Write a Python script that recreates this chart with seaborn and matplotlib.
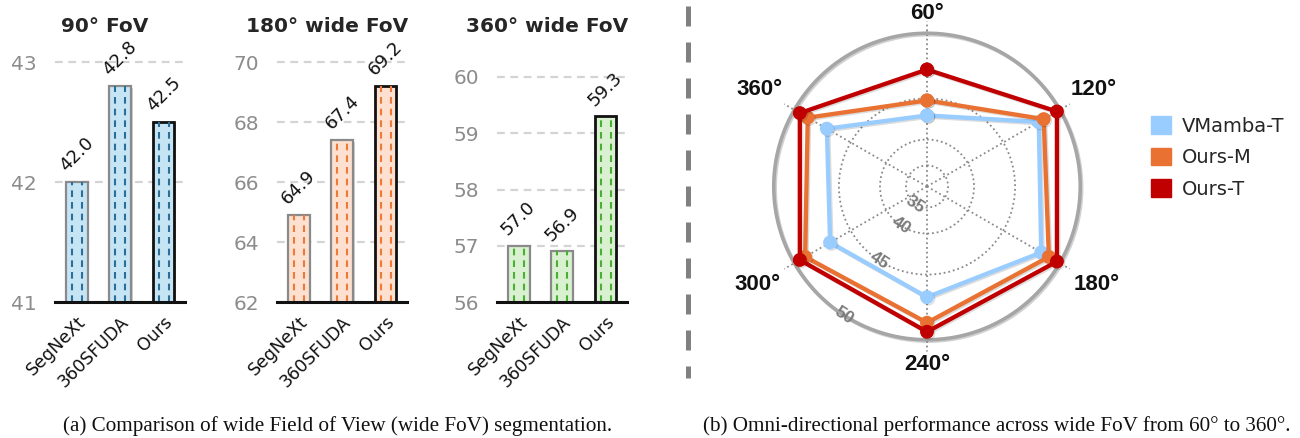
import numpy as np
import pandas as pd
import matplotlib
matplotlib.use("Agg")
import matplotlib.pyplot as plt
import seaborn as sns
from matplotlib.patches import Patch
from matplotlib.lines import Line2D
from matplotlib.transforms import ScaledTranslation
import matplotlib.patheffects as pe

# ---------------- data ----------------
methods = ["SegNeXt", "360SFUDA", "Ours"]
fov90 = [42.0, 42.8, 42.5]
fov180 = [64.9, 67.4, 69.2]
fov360 = [57.0, 56.9, 59.3]
panel_titles = ["90° FoV", "180° wide FoV", "360° wide FoV"]
panel_ticks = [[41, 42, 43], [62, 64, 66, 68, 70], [56, 57, 58, 59, 60]]

radar_labels = ["60°", "120°", "180°", "240°", "300°", "360°"]
vmamba_t = [43.2, 48.4, 48.6, 47.0, 47.1, 47.4]
ours_m = [44.8, 48.8, 49.2, 48.9, 49.2, 49.0]
ours_t = [47.5, 49.8, 49.8, 49.5, 49.6, 49.6]
series_names = ["VMamba-T", "Ours-M", "Ours-T"]
radar_ticks = [35, 40, 45, 50]

caption_a = "(a) Comparison of wide Field of View (wide FoV) segmentation."
caption_b = "(b) Omni-directional performance across wide FoV from 60° to 360°."

# ---------------- style ----------------
sns.set_theme(style="white")
plt.rcParams["font.family"] = ["DejaVu Sans"]

W, H = 1300, 438
fig = plt.figure(figsize=(W / 100, H / 100), dpi=100)

fills = ["#c6e5f4", "#fde0d0", "#d9f1d0"]
hatch_cols = ["#2b6f98", "#ee7a3a", "#4caf35"]
lefts = [55, 277, 497]
ylims = [(41, 43.1), (62, 70.4), (56, 60.48)]
panel_values = [fov90, fov180, fov360]

for i in range(3):
    ax = fig.add_axes([lefts[i] / W, 136 / H, 130 / W, 252 / H])
    df = pd.DataFrame({"method": methods, "value": panel_values[i]})
    sns.barplot(data=df, x="method", y="value", ax=ax, width=0.5,
                color=fills[i], saturation=1, zorder=3)
    ax.set_ylim(*ylims[i])
    ax.set_xlim(-0.5, 2.5)
    for bar, m, v in zip(ax.patches, methods, panel_values[i]):
        if m == "Ours":
            bar.set_edgecolor("#111111")
            bar.set_linewidth(2.0)
        else:
            bar.set_edgecolor("#8a8a8a")
            bar.set_linewidth(1.6)
        bar.set_path_effects([pe.withSimplePatchShadow(offset=(1.2, -1.2),
                                                       shadow_rgbFace="#000000",
                                                       alpha=0.18)])
        x0, w = bar.get_x(), bar.get_width()
        ax.vlines([x0 + 0.28 * w, x0 + 0.74 * w], ylims[i][0], v,
                  colors=hatch_cols[i], linestyles=(0, (3.2, 2.4)), lw=1.5,
                  zorder=4)
        ax.annotate(f"{v:.1f}", xy=(x0 + w / 2, v), xytext=(0, 5),
                    textcoords="offset points", ha="center", va="bottom",
                    rotation=45, fontsize=13, color="#111111")
    ax.set_yticks(panel_ticks[i])
    ax.set_yticklabels([str(t) for t in panel_ticks[i]])
    ax.yaxis.grid(True, color="#d4d4d4", linestyle=(0, (3.5, 2.5)), lw=1.6)
    ax.xaxis.grid(False)
    ax.set_axisbelow(True)
    for s in ["left", "right", "top"]:
        ax.spines[s].set_visible(False)
    ax.spines["bottom"].set_color("#111111")
    ax.spines["bottom"].set_linewidth(2.2)
    ax.spines["bottom"].set_zorder(5)
    ax.tick_params(axis="y", length=0, pad=13, labelsize=14.5, labelcolor="#8c8c8c")
    ax.tick_params(axis="x", length=0, pad=8, labelsize=12.5, labelcolor="#111111")
    ax.set_xlabel("")
    ax.set_ylabel("")
    for lab in ax.get_xticklabels():
        lab.set_rotation(45)
        lab.set_ha("right")
        lab.set_va("top")
        lab.set_rotation_mode("anchor")
    ax.set_title(panel_titles[i], x=0.385, fontweight="bold", fontsize=14.5, pad=13)

# separator
fig.add_artist(Line2D([688 / W, 688 / W], [1 - 6 / H, 1 - 378 / H],
                      transform=fig.transFigure, color="#808080", lw=3.6,
                      linestyle=(0, (4, 3.2))))

# ---------------- radar ----------------
R = 165
cx, cy = 927, H - 186.5
pax = fig.add_axes([(cx - R) / W, (cy - R) / H, 2 * R / W, 2 * R / H], projection="polar")
b = 0.0921
pax.set_rscale("function", functions=(lambda v: np.exp(b * np.asarray(v)),
                                      lambda y: np.log(np.maximum(y, 1e-300)) / b))
pax.set_theta_zero_location("N")
pax.set_theta_direction(-1)
angles = np.deg2rad(np.arange(len(radar_labels)) * 60.0)
pax.set_xticks(angles)
pax.set_xticklabels([])
pax.set_yticks(radar_ticks[:-1])
pax.set_yticklabels([])
pax.set_rlim(28, 50.7)
pax.xaxis.grid(True, color="#8a8a8a", linestyle=(0, (1, 1.6)), lw=1.3)
pax.yaxis.grid(True, color="#8a8a8a", linestyle=(0, (1, 1.6)), lw=1.3)
pax.spines["polar"].set_visible(False)
pax.set_facecolor("none")
pax.tick_params(length=0)

circ = np.linspace(0, 2 * np.pi, 361)
pax.plot(circ, np.full_like(circ, radar_ticks[-1]), color="#a6a6a6", lw=2.6, zorder=2,
         path_effects=[pe.SimpleLineShadow(offset=(1, -1), alpha=0.2), pe.Normal()])

for v in radar_ticks:
    pax.text(np.deg2rad(213), v, str(v), rotation=-33, ha="center", va="center",
             fontsize=12.5, fontweight="bold", color="#7a7a7a", zorder=3,
             family="Liberation Sans")

radar_colors = ["#99ccff", "#e97132", "#c00000"]
radar_series = [vmamba_t, ours_m, ours_t]
closed_ang = np.append(angles, angles[0])
for name, vals, col in zip(series_names, radar_series, radar_colors):
    pax.plot(closed_ang, vals + vals[:1], color=col, lw=3.1, marker="o", ms=9,
             zorder=5, solid_joinstyle="miter", label=name,
             path_effects=[pe.SimpleLineShadow(offset=(1, -1), alpha=0.15), pe.Normal()])

for ang, lab in zip(angles, radar_labels):
    d = 22 + 22 * abs(np.sin(ang)) - 2.5 * np.cos(ang)
    pax.annotate(lab, xy=(ang, radar_ticks[-1]), xytext=(d * np.sin(ang), d * np.cos(ang)),
                 textcoords="offset pixels", ha="center", va="center",
                 fontsize=16, fontweight="bold", color="#111111", annotation_clip=False,
                 family="Liberation Sans")

handles = [Patch(facecolor=c, edgecolor=c, label=n) for n, c in zip(series_names, radar_colors)]
fig.legend(handles=handles, loc="upper left", bbox_to_anchor=(1151 / W, 1 - 116 / H),
           frameon=False, fontsize=14, handlelength=1.03, handleheight=1.03,
           handletextpad=0.57, labelspacing=0.62, borderpad=0, borderaxespad=0)

# captions
fig.text(338 / W, 1 - 431 / H, caption_a, ha="center", va="baseline",
         family="Liberation Serif", fontsize=15.2, color="#111111")
fig.text(997 / W, 1 - 431 / H, caption_b, ha="center", va="baseline",
         family="Liberation Serif", fontsize=15.2, color="#111111")

fig.savefig("out.png", dpi=100)
